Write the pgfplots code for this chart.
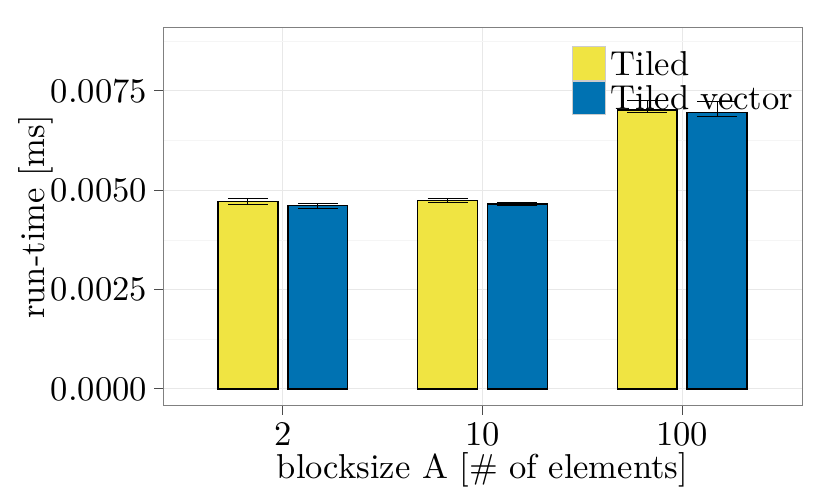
\documentclass[border=0pt]{standalone}
\usepackage{pgfplots}
\pgfplotsset{compat=1.18}
\DeclareFontFamily{TU}{lmrten}{}
\DeclareFontShape{TU}{lmrten}{m}{n}{<-> "[lmroman10-regular]:+tlig;"}{}
\renewcommand{\rmdefault}{lmrten}
\definecolor{cbyellow}{HTML}{F0E442}
\definecolor{cbblue}{HTML}{0072B2}
\newcommand{\chartfont}{\fontsize{17.28}{20.7}\selectfont}
\begin{document}
\begin{tikzpicture}[x=1pt,y=1pt]
\useasboundingbox (0,0) rectangle (415,249);
\begin{axis}[
  at={(81.5pt,46pt)}, anchor=south west,
  scale only axis, width=319.5pt, height=189pt,
  xmin=0.4, xmax=3.6,
  ymin=-0.000428, ymax=0.009079,
  xtick={1,2,3}, xticklabels={2,10,100},
  ytick={0,0.0025,0.005,0.0075},
  yticklabels={0.0000,0.0025,0.0050,0.0075},
  scaled y ticks=false,
  minor ytick={0.00125,0.00375,0.00625,0.00875},
  minor tick length=0pt,
  tick align=outside, tick pos=left,
  major tick length=4.5pt,
  tick style={black!70, line width=0.5pt},
  grid=both,
  major grid style={black!9, line width=0.5pt},
  minor grid style={black!4, line width=0.3pt},
  axis line style={black!50, line width=0.5pt},
  tick label style={font=\chartfont},
  label style={font=\chartfont},
  xlabel={blocksize A [\# of elements]},
  ylabel={run-time [ms]},
  xlabel style={at={(axis description cs:0.5,-0.1905)}, anchor=base},
  ylabel style={at={(axis description cs:-0.1854,0.5)}, anchor=base},
  legend style={at={(rel axis cs:0.6396,0.9524)}, anchor=north west,
    draw=none, fill=none, inner sep=0pt, outer sep=0pt, row sep=0pt, column sep=2.2pt,
    font=\chartfont, nodes={inner sep=0pt, outer sep=0pt, text height=12pt, text depth=0pt}},
  legend cell align=left,
]
\addplot[ybar, bar width=0.3, bar shift=0pt, fill=cbyellow, draw=black, line width=0.7pt,
  legend image code/.code={\fill[cbyellow, draw=black!20, line width=0.5pt] (0pt,-8.4pt) rectangle (16.8pt,8.4pt);},
  error bars/.cd, y dir=both, y explicit,
  error bar style={black, line width=0.5pt},
  error mark options={black, rotate=90, line width=0.5pt, mark size=10pt}]
coordinates {
  (0.825,0.004721) += (0,0.000058) -= (0,0.000085)
  (1.825,0.004746) += (0,0.000040) -= (0,0.000045)
  (2.825,0.007020) += (0,0.000234) -= (0,0.000058)
};
\addlegendentry{Tiled}
\addplot[ybar, bar width=0.3, bar shift=0pt, fill=cbblue, draw=black, line width=0.7pt,
  legend image code/.code={\fill[cbblue, draw=black!20, line width=0.5pt] (0pt,-8.4pt) rectangle (16.8pt,8.4pt);},
  error bars/.cd, y dir=both, y explicit,
  error bar style={black, line width=0.5pt},
  error mark options={black, rotate=90, line width=0.5pt, mark size=10pt}]
coordinates {
  (1.175,0.004610) += (0,0.000050) -= (0,0.000075)
  (2.175,0.004653) += (0,0.000040) -= (0,0.000045)
  (3.175,0.006950) += (0,0.000280) -= (0,0.000100)
};
\addlegendentry{Tiled vector}
\end{axis}
\end{tikzpicture}
\end{document}
